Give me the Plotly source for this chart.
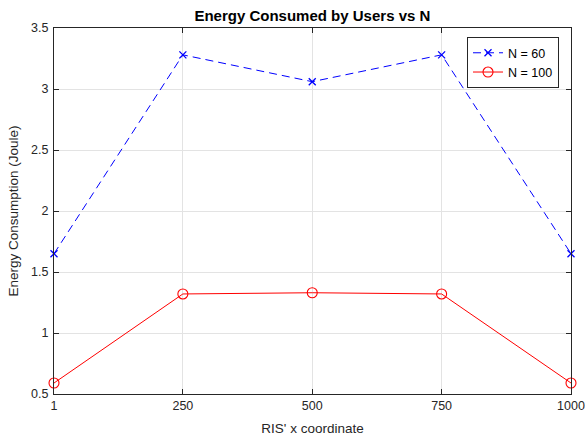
import plotly.graph_objects as go

# RIS x positions and energy consumed for two values of N
ris_x = [1, 250, 500, 750, 1000]
energy_n60 = [1.65, 3.28, 3.06, 3.28, 1.65]
energy_n100 = [0.59, 1.32, 1.33, 1.32, 0.59]

x_ticks = [1, 250, 500, 750, 1000]
y_ticks = [0.5, 1, 1.5, 2, 2.5, 3, 3.5]
y_tick_text = ["0.5", "1", "1.5", "2", "2.5", "3", "3.5"]

axis_col = "#262626"
font_family = "Liberation Sans, Arial, sans-serif"

fig = go.Figure()
fig.add_trace(go.Scatter(
    x=ris_x, y=energy_n60, mode="lines+markers", name="N = 60",
    line=dict(color="#0000ff", width=1, dash="8px,5px"),
    marker=dict(symbol="x-thin-open", size=7, color="#0000ff",
                line=dict(color="#0000ff", width=1.3)),
    cliponaxis=False,
))
fig.add_trace(go.Scatter(
    x=ris_x, y=energy_n100, mode="lines+markers", name="N = 100",
    line=dict(color="#ff0000", width=1),
    marker=dict(symbol="circle-open", size=10, color="#ff0000",
                line=dict(color="#ff0000", width=1.1)),
    cliponaxis=False,
))

axis_common = dict(
    showline=True, linecolor=axis_col, linewidth=1, mirror="ticks",
    ticks="inside", ticklen=5, tickcolor=axis_col,
    showgrid=True, gridcolor="#e3e3e3", gridwidth=1,
    zeroline=False, automargin=False,
    tickfont=dict(size=12.5, color=axis_col, family=font_family),
)

fig.update_xaxes(
    range=[1, 1000], tickvals=x_ticks, ticktext=[str(v) for v in x_ticks],
    title=dict(text="RIS' x coordinate", font=dict(size=13.5, color=axis_col), standoff=11),
    **axis_common,
)
fig.update_yaxes(
    range=[0.5, 3.5], tickvals=y_ticks, ticktext=y_tick_text,
    ticklabelstandoff=2,
    title=dict(text="Energy Consumption (Joule)", font=dict(size=13.5, color=axis_col), standoff=9),
    **axis_common,
)

fig.update_layout(
    width=585, height=439,
    margin=dict(l=54, r=14, t=28, b=45),
    paper_bgcolor="white", plot_bgcolor="white",
    font=dict(family=font_family, color=axis_col),
    title=dict(text="<b>Energy Consumed by Users vs N</b>", x=0.534, xanchor="center",
               y=1 - 16 / 439, yanchor="middle",
               font=dict(size=15, color="black", family=font_family)),
    legend=dict(x=0.9768, y=0.975, xanchor="right", yanchor="top",
                bgcolor="white", bordercolor=axis_col, borderwidth=1,
                font=dict(size=12.5, color="black", family=font_family),
                tracegroupgap=0, itemwidth=30),
    showlegend=True,
)

fig.write_html("out.html")
